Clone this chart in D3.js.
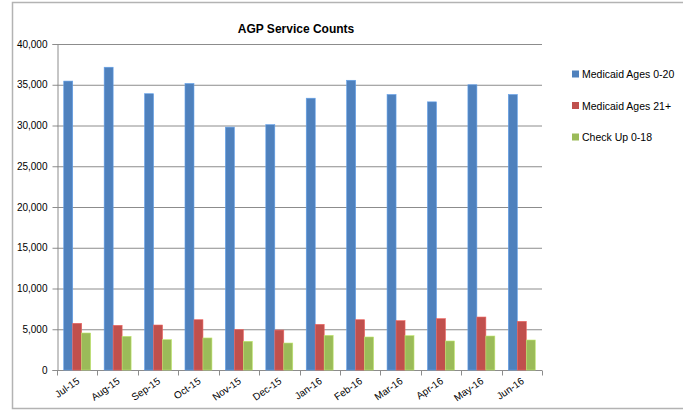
<!DOCTYPE html>
<html>
<head>
<meta charset="utf-8">
<script src="https://d3js.org/d3.v7.min.js"></script>
<style>
  body { margin: 0; background: #fff; }
  text { font-family: "Liberation Sans", Arial, sans-serif; fill: #000; }
</style>
</head>
<body>
<div id="chart"></div>
<script>
// months along the x axis
var months = ["Jul-15", "Aug-15", "Sep-15", "Oct-15", "Nov-15", "Dec-15",
              "Jan-16", "Feb-16", "Mar-16", "Apr-16", "May-16", "Jun-16"];

var seriesNames = ["Medicaid Ages 0-20", "Medicaid Ages 21+", "Check Up 0-18"];

// values
var medicaid020 = [35450, 37150, 33900, 35150, 29800, 30100, 33350, 35550, 33800, 32900, 35000, 33800];
var medicaid21 = [5730, 5480, 5520, 6170, 4950, 4900, 5600, 6170, 6050, 6300, 6500, 5970];
var checkUp018 = [4540, 4130, 3720, 3930, 3520, 3310, 4250, 4050, 4210, 3560, 4170, 3680];

var yTicks = [0, 5000, 10000, 15000, 20000, 25000, 30000, 35000, 40000];

var colors = ["#4F81BD", "#C0504D", "#9BBB59"];

var svgWidth = 683;
var svgHeight = 410;

var margin = { top: 44, left: 57, right: 141, bottom: 40 };
var width = 542 - margin.left;
var height = 370 - margin.top;

var svg = d3.select("#chart")
  .append("svg")
  .attr("width", svgWidth)
  .attr("height", svgHeight);

// chart border
svg.append("rect")
  .attr("x", 12.5)
  .attr("y", 2.5)
  .attr("width", 700)
  .attr("height", 406)
  .attr("fill", "none")
  .attr("stroke", "#b3b3b3")
  .attr("stroke-width", 1.5);

svg.append("text")
  .attr("x", 296)
  .attr("y", 33)
  .attr("text-anchor", "middle")
  .attr("font-weight", "bold")
  .attr("font-size", "12px")
  .text("AGP Service Counts");

var chartGroup = svg.append("g")
  .attr("transform", `translate(${margin.left}, ${margin.top})`);

var xScale = d3.scaleBand()
  .domain(months)
  .range([0, width]);

var xInner = d3.scaleBand()
  .domain(seriesNames)
  .range([0, xScale.bandwidth()])
  .paddingInner(0)
  .paddingOuter(0.75);

var yScale = d3.scaleLinear()
  .domain([0, 40000])
  .range([height, 0]);

// gridlines
chartGroup.selectAll(".grid")
  .data(yTicks)
  .enter()
  .append("line")
  .attr("x1", 0)
  .attr("x2", width)
  .attr("y1", d => yScale(d) + 0.5)
  .attr("y2", d => yScale(d) + 0.5)
  .attr("stroke", "#8c8c8c")
  .attr("stroke-width", 1);

// y axis
var leftAxis = d3.axisLeft(yScale)
  .tickValues(yTicks)
  .tickSize(5)
  .tickPadding(5)
  .tickFormat(d3.format(","));

var yAxisG = chartGroup.append("g")
  .attr("transform", "translate(0.5,0)")
  .call(leftAxis);
yAxisG.select(".domain").attr("stroke", "#8c8c8c");
yAxisG.selectAll(".tick line").attr("stroke", "#8c8c8c");
yAxisG.selectAll("text")
  .attr("font-size", "10px")
  .attr("font-family", "Liberation Sans, Arial, sans-serif");

// x axis: ticks between categories
var xAxisG = chartGroup.append("g")
  .attr("transform", `translate(0, ${height + 0.5})`);
xAxisG.append("line")
  .attr("x1", 0)
  .attr("x2", width)
  .attr("stroke", "#8c8c8c");
xAxisG.selectAll(".xtick")
  .data(months.concat(["end"]))
  .enter()
  .append("line")
  .attr("x1", (d, i) => Math.round(i * xScale.step()) + 0.5)
  .attr("x2", (d, i) => Math.round(i * xScale.step()) + 0.5)
  .attr("y1", 0)
  .attr("y2", 5)
  .attr("stroke", "#8c8c8c");

xAxisG.selectAll(".xlabel")
  .data(months)
  .enter()
  .append("text")
  .attr("font-size", "10px")
  .attr("text-anchor", "end")
  .attr("transform", d => `translate(${xScale(d) + xScale.bandwidth() / 2 + 3}, 12) rotate(-35)`)
  .text(d => d);

// bars
var seriesValues = [medicaid020, medicaid21, checkUp018];

seriesValues.forEach(function(values, s) {
  chartGroup.selectAll(".bar" + s)
    .data(values)
    .enter()
    .append("rect")
    .attr("x", (d, i) => xScale(months[i]) + xInner(seriesNames[s]))
    .attr("y", d => yScale(d))
    .attr("width", xInner.bandwidth())
    .attr("height", d => height - yScale(d))
    .attr("fill", colors[s])
    .attr("stroke", d3.color(colors[s]).brighter(0.6))
    .attr("stroke-width", 0.6);
});

// legend
var legend = svg.append("g")
  .attr("transform", "translate(572, 74)");

var legendItems = legend.selectAll(".legend-item")
  .data(seriesNames)
  .enter()
  .append("g")
  .attr("transform", (d, i) => `translate(0, ${i * 31.5})`);

legendItems.append("rect")
  .attr("x", 0)
  .attr("y", -3.5)
  .attr("width", 7)
  .attr("height", 7)
  .attr("fill", (d, i) => colors[i]);

legendItems.append("text")
  .attr("x", 10)
  .attr("y", 4)
  .attr("font-size", "10.5px")
  .text(d => d);
</script>
</body>
</html>
